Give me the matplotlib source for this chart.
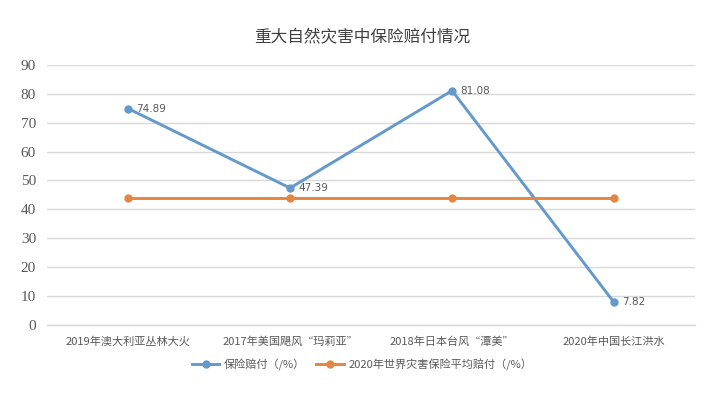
"""Recreate the insurance payout chart for major natural disasters."""

import matplotlib.pyplot as plt

plt.rcParams["font.family"] = ["Noto Sans CJK SC", "DejaVu Sans"]

categories = [
    "2019年澳大利亚丛林大火",
    "2017年美国飓风\u201c玛莉亚\u201d",
    "2018年日本台风\u201c潭美\u201d",
    "2020年中国长江洪水",
]
payout = [74.89, 47.39, 81.08, 7.82]
world_avg = [44, 44, 44, 44]
yticks = [0, 10, 20, 30, 40, 50, 60, 70, 80, 90]

blue = "#6499CC"
orange = "#E6853F"
text_color = "#595959"

fig = plt.figure(figsize=(7.24, 3.93), dpi=100)
ax = fig.add_axes([0.065, 0.173, 0.895, 0.662])

x = list(range(len(categories)))
ax.plot(x, payout, "o-", color=blue, linewidth=2.1, markersize=5,
        label="保险赔付（/%）", zorder=3)
ax.plot(x, world_avg, "o-", color=orange, linewidth=2.1, markersize=5,
        label="2020年世界灾害保险平均赔付（/%）", zorder=3)

for xi, v in zip(x, payout):
    ax.annotate(f"{v:.2f}", (xi, v), xytext=(6, 0), textcoords="offset points",
                va="center", ha="left", fontsize=7.5, color=text_color,
                family="DejaVu Sans")

ax.set_xlim(-0.5, len(categories) - 0.5)
ax.set_ylim(0, 90)
ax.set_yticks(yticks)
ax.set_yticklabels([str(t) for t in yticks], family="Liberation Serif",
                   fontsize=11, color=text_color)
ax.set_xticks(x)
ax.set_xticklabels(categories, fontsize=8, color=text_color)
ax.tick_params(axis="both", length=0, pad=8)
ax.tick_params(axis="y", pad=8)

ax.grid(axis="y", color="#D9D9D9", linewidth=1)
ax.set_axisbelow(True)
for side in ["top", "right", "left"]:
    ax.spines[side].set_visible(False)
ax.spines["bottom"].set_color("#D9D9D9")
ax.spines["bottom"].set_linewidth(1)

fig.suptitle("重大自然灾害中保险赔付情况", y=0.925, fontsize=12, color="#404040")

fig.legend(loc="center", bbox_to_anchor=(0.5, 0.072), ncol=2, frameon=False,
           fontsize=8, labelcolor=text_color, handlelength=2.5,
           columnspacing=1.0, handletextpad=0.4)

fig.savefig("out.png", dpi=100)
